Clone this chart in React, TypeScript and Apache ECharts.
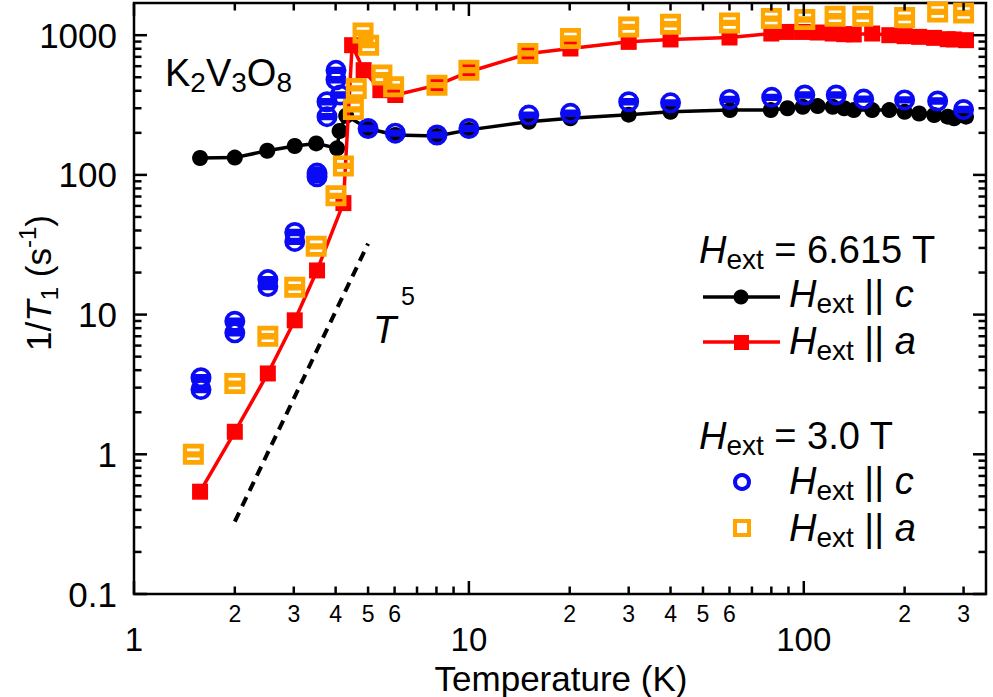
import { useEffect, useRef } from 'react';
import * as echarts from 'echarts';

// Axis ranges (log scales)
const X_MIN = 1;
const X_MAX = 350;
const Y_MIN = 0.1;
const Y_MAX = 1700;

// 6.615 T, H_ext || c
const blackT = [1.575, 2.0, 2.5, 3.02, 3.5, 4.04, 4.11, 4.3, 5.0, 6.03, 8.03, 10.0, 15.1, 20.1, 30.0, 40.0, 60.2, 79.7, 89.4, 99.3, 110, 122, 132, 141, 160, 180, 200, 221, 245, 269, 281, 305];
const blackV = [132, 133, 149, 161, 168, 155, 206, 265, 215, 193, 190, 210, 240, 254, 270, 283, 291, 291, 300, 307, 311, 307, 300, 291, 291, 291, 283, 275, 268, 261, 254, 261];

// 6.615 T, H_ext || a
const redT = [1.575, 2.0, 2.51, 3.02, 3.52, 4.22, 4.48, 4.85, 5.44, 6.03, 8.03, 10, 15.1, 20.1, 30, 40, 60, 80, 89, 99, 110, 122, 132, 141, 160, 180, 200, 221, 245, 269, 281, 305];
const redV = [0.54, 1.45, 3.79, 9.1, 20.7, 62.8, 848, 562, 404, 373, 439, 547, 740, 803, 896, 932, 963, 1028, 1055, 1055, 1045, 1028, 1017, 1012, 1028, 1000, 984, 973, 957, 936, 932, 921];

// 3.0 T, H_ext || c
const blueT = [1.585, 1.585, 2.0, 2.0, 2.51, 2.51, 3.02, 3.02, 3.52, 3.52, 3.77, 3.77, 4.01, 4.01, 4.13, 5.0, 6.03, 8.03, 10, 15.1, 20.1, 30, 40, 60, 80.2, 100.7, 125, 151, 200, 251, 300];
const blueV = [3.53, 2.91, 8.96, 7.4, 17.8, 15.9, 38.7, 33.4, 103, 97, 334, 261, 560, 480, 373, 215, 199, 193, 215, 268, 276, 334, 328, 347, 359, 373, 373, 349, 344, 338, 294];

// 3.0 T, H_ext || a
const orangeT = [1.504, 2.0, 2.51, 3.02, 3.5, 4.01, 4.22, 4.52, 4.61, 4.83, 5.02, 5.5, 5.96, 8.03, 10, 15, 20.1, 30, 40, 60, 80, 100.7, 124, 150, 200, 251, 300];
const orangeV = [1.0, 3.21, 7.0, 15.7, 30.8, 70.8, 116, 294, 416, 1038, 848, 518, 428, 439, 562, 740, 947, 1146, 1198, 1224, 1316, 1295, 1367, 1367, 1338, 1467, 1442];

// T^5 guide line end points
const guideT = [2, 5];
const guideV = [0.33, 32.2];

// Tick marks and labels
const xTicks = [1, 2, 3, 4, 5, 6, 7, 8, 9, 10, 20, 30, 40, 50, 60, 70, 80, 90, 100, 200, 300];
const xMajorLabels = [1, 10, 100];
const xMinorLabels = [2, 3, 4, 5, 6, 20, 30, 40, 50, 60, 200, 300];
const xMinorLabelText = ['2', '3', '4', '5', '6', '2', '3', '4', '5', '6', '2', '3'];
const yTicks = [0.1, 0.2, 0.3, 0.4, 0.5, 0.6, 0.7, 0.8, 0.9, 1, 2, 3, 4, 5, 6, 7, 8, 9, 10, 20, 30, 40, 50, 60, 70, 80, 90, 100, 200, 300, 400, 500, 600, 700, 800, 900, 1000];
const yLabels = [0.1, 1, 10, 100, 1000];
const yLabelText = ['0.1', '1', '10', '100', '1000'];

const FONT = '"Liberation Sans", Arial, Helvetica, sans-serif';
const BLUE = '#0a0af5';
const ORANGE = '#ffa500';
const RED = '#ff0000';

const isMajor = (v: number) => Math.abs(Math.log10(v) - Math.round(Math.log10(v))) < 1e-9;
const zip = (a: number[], b: number[]) => a.map((x, i) => [x, b[i]]);

// Hollow markers with an inner bar
const ringSymbol =
  'path://M0 10 A10 10 0 1 1 20 10 A10 10 0 1 1 0 10 Z ' +
  'M4.523 6.5 L15.477 6.5 A6.5 6.5 0 0 0 4.523 6.5 Z ' +
  'M15.477 13.5 L4.523 13.5 A6.5 6.5 0 0 0 15.477 13.5 Z';
const boxSymbol =
  'path://M0 0 L20 0 L20 20 L0 20 Z ' +
  'M4 4.5 L4 7 L16 7 L16 4.5 Z ' +
  'M4 13 L4 15.5 L16 15.5 L16 13 Z';

const txt = (fontSize: number, extra: Record<string, unknown> = {}) => ({
  fontSize,
  fontFamily: FONT,
  fill: '#000',
  lineHeight: 46,
  verticalAlign: 'middle',
  ...extra,
});

const legendRich = {
  n: txt(38),
  i: txt(38, { fontStyle: 'italic' }),
  sub: { fontSize: 28, fontFamily: FONT, fill: '#000', verticalAlign: 'bottom' },
};

function textEl(
  x: number,
  y: number,
  text: string,
  rich: Record<string, unknown> | null,
  fontSize = 36,
  fontStyle = 'normal',
) {
  return {
    type: 'text',
    x,
    y,
    silent: true,
    z: 100,
    style: {
      text,
      ...(rich ? { rich } : {}),
      fontSize,
      fontStyle,
      align: 'left',
      textAlign: 'left',
      verticalAlign: 'middle',
      textVerticalAlign: 'middle',
      fontFamily: FONT,
      fill: '#000',
    },
  };
}

export default function App() {
  const ref = useRef<HTMLDivElement>(null);

  useEffect(() => {
    if (!ref.current) return;
    const chart = echarts.init(ref.current, undefined, { renderer: 'svg' });

    const tickSeries = (data: number[][], axis: 'x' | 'y') => ({
      type: 'custom',
      coordinateSystem: 'cartesian2d',
      clip: false,
      silent: true,
      z: 50,
      data,
      renderItem: (_p: any, api: any) => {
        const v = api.value(axis === 'x' ? 0 : 1);
        const len = isMajor(v) ? 13 : 7.5;
        const s = { stroke: '#000', lineWidth: 2.5 };
        if (axis === 'x') {
          const b = api.coord([v, Y_MIN]);
          const t = api.coord([v, Y_MAX]);
          return {
            type: 'group',
            children: [
              { type: 'line', shape: { x1: b[0], y1: b[1], x2: b[0], y2: b[1] - len }, style: s },
              { type: 'line', shape: { x1: t[0], y1: t[1], x2: t[0], y2: t[1] + len }, style: s },
            ],
          };
        }
        const l = api.coord([X_MIN, v]);
        const r = api.coord([X_MAX, v]);
        return {
          type: 'group',
          children: [
            { type: 'line', shape: { x1: l[0], y1: l[1], x2: l[0] + len, y2: l[1] }, style: s },
            { type: 'line', shape: { x1: r[0], y1: r[1], x2: r[0] - len, y2: r[1] }, style: s },
          ],
        };
      },
    });

    const labelSeries = (data: number[][], texts: string[], axis: 'x' | 'y', fontSize: number, offset: number) => ({
      type: 'custom',
      coordinateSystem: 'cartesian2d',
      clip: false,
      silent: true,
      z: 50,
      data,
      renderItem: (p: any, api: any) => {
        const pt = api.coord([api.value(0), api.value(1)]);
        return {
          type: 'text',
          x: axis === 'x' ? pt[0] : pt[0] - offset,
          y: axis === 'x' ? pt[1] + offset : pt[1],
          style: {
            text: texts[p.dataIndex],
            fontSize,
            fontFamily: FONT,
            fill: '#000',
            align: axis === 'x' ? 'center' : 'right',
            textAlign: axis === 'x' ? 'center' : 'right',
            verticalAlign: 'middle',
            textVerticalAlign: 'middle',
          },
        };
      },
    });

    chart.setOption({
      animation: false,
      backgroundColor: '#fff',
      grid: {
        left: 134,
        top: 3,
        right: 7,
        bottom: 103,
        show: true,
        borderColor: '#000',
        borderWidth: 2.5,
        backgroundColor: 'transparent',
      },
      xAxis: {
        type: 'log',
        logBase: 10,
        min: X_MIN,
        max: X_MAX,
        axisLine: { show: false },
        axisTick: { show: false },
        axisLabel: { show: false },
        splitLine: { show: false },
      },
      yAxis: {
        type: 'log',
        logBase: 10,
        min: Y_MIN,
        max: Y_MAX,
        axisLine: { show: false },
        axisTick: { show: false },
        axisLabel: { show: false },
        splitLine: { show: false },
      },
      series: [
        tickSeries(xTicks.map((v) => [v, Y_MIN]), 'x'),
        tickSeries(yTicks.map((v) => [X_MIN, v]), 'y'),
        labelSeries(xMajorLabels.map((v) => [v, Y_MIN]), xMajorLabels.map(String), 'x', 33, 45),
        labelSeries(xMinorLabels.map((v) => [v, Y_MIN]), xMinorLabelText, 'x', 23, 20),
        labelSeries(yLabels.map((v) => [X_MIN, v]), yLabelText, 'y', 35, 17),
        {
          type: 'line',
          data: zip(guideT, guideV),
          symbol: 'none',
          silent: true,
          lineStyle: { color: '#000', width: 4, type: [10, 7] },
          z: 2,
        },
        {
          type: 'line',
          data: zip(blackT, blackV),
          symbol: 'circle',
          symbolSize: 16,
          silent: true,
          itemStyle: { color: '#000' },
          lineStyle: { color: '#000', width: 3.5 },
          z: 3,
        },
        {
          type: 'line',
          data: zip(redT, redV),
          symbol: 'rect',
          symbolSize: 16,
          silent: true,
          itemStyle: { color: RED },
          lineStyle: { color: RED, width: 3.5 },
          z: 4,
        },
        {
          type: 'scatter',
          data: zip(blueT, blueV),
          symbol: ringSymbol,
          symbolSize: 21,
          silent: true,
          itemStyle: { color: BLUE, opacity: 1 },
          z: 5,
        },
        {
          type: 'scatter',
          data: zip(orangeT, orangeV),
          symbol: boxSymbol,
          symbolSize: 21,
          silent: true,
          itemStyle: { color: ORANGE, opacity: 1 },
          z: 6,
        },
      ],
      graphic: [
        // compound label
        textEl(165, 73, '{n|K}{sub|2}{n|V}{sub|3}{n|O}{sub|8}', {
          n: txt(38),
          sub: { fontSize: 28, fontFamily: FONT, fill: '#000', verticalAlign: 'bottom' },
        }),
        // T^5 guide label
        textEl(373, 330, 'T', null, 38, 'italic'),
        textEl(401, 296, '5', null, 25),
        // axis titles
        {
          type: 'text',
          x: 38,
          y: 283,
          rotation: Math.PI / 2,
          silent: true,
          style: {
            text: '{n|1/}{i|T}{sub|1}{n| (s}{sup|-1}{n|)}',
            align: 'center',
            textAlign: 'center',
            verticalAlign: 'middle',
            textVerticalAlign: 'middle',
            rich: {
              n: txt(35),
              i: txt(35, { fontStyle: 'italic' }),
              sub: { fontSize: 24, fontFamily: FONT, fill: '#000', verticalAlign: 'bottom' },
              sup: { fontSize: 24, fontFamily: FONT, fill: '#000', verticalAlign: 'top' },
            },
          },
        },
        {
          type: 'text',
          x: 561,
          y: 678,
          silent: true,
          style: {
            text: 'Temperature (K)',
            fontSize: 35,
            fontFamily: FONT,
            fill: '#000',
            align: 'center',
            textAlign: 'center',
            verticalAlign: 'middle',
            textVerticalAlign: 'middle',
          },
        },
        // legend, 6.615 T
        textEl(699, 250, '{i|H}{sub|ext}{n| = 6.615 T}', legendRich),
        { type: 'line', shape: { x1: 703, y1: 297, x2: 780, y2: 297 }, style: { stroke: '#000', lineWidth: 3.5 }, silent: true },
        { type: 'circle', shape: { cx: 741, cy: 297, r: 7.5 }, style: { fill: '#000' }, silent: true },
        textEl(789, 294, '{i|H}{sub|ext}{n| || }{i|c}', legendRich),
        { type: 'line', shape: { x1: 703, y1: 342, x2: 780, y2: 342 }, style: { stroke: RED, lineWidth: 3.5 }, silent: true },
        { type: 'rect', shape: { x: 734, y: 335, width: 15, height: 15 }, style: { fill: RED }, silent: true },
        textEl(789, 341, '{i|H}{sub|ext}{n| || }{i|a}', legendRich),
        // legend, 3.0 T
        textEl(699, 436, '{i|H}{sub|ext}{n| = 3.0 T}', legendRich),
        { type: 'circle', shape: { cx: 742, cy: 482, r: 7 }, style: { fill: 'none', stroke: BLUE, lineWidth: 4 }, silent: true },
        textEl(789, 481, '{i|H}{sub|ext}{n| || }{i|c}', legendRich),
        { type: 'rect', shape: { x: 735, y: 521, width: 14, height: 14 }, style: { fill: 'none', stroke: ORANGE, lineWidth: 4 }, silent: true },
        textEl(789, 528, '{i|H}{sub|ext}{n| || }{i|a}', legendRich),
      ],
    });

    return () => chart.dispose();
  }, []);

  return (
    <div
      ref={ref}
      style={{ position: 'absolute', left: 0, top: 0, width: 993, height: 697, background: '#fff' }}
    />
  );
}
